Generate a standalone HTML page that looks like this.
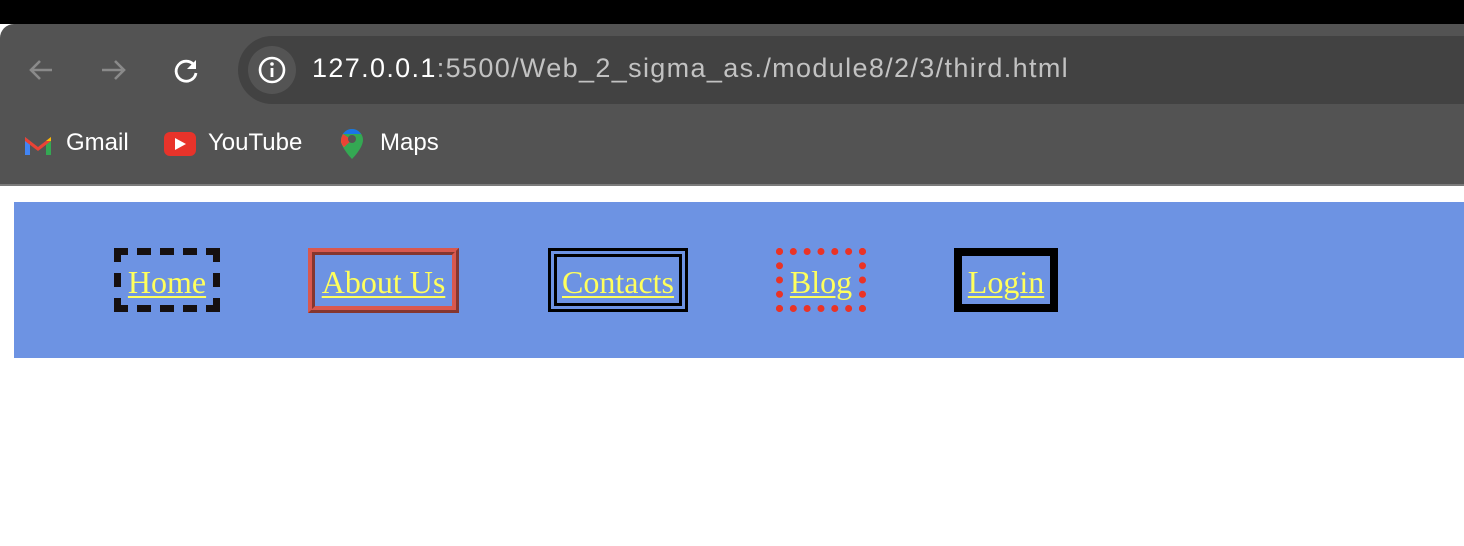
<!DOCTYPE html>
<html><head><style>
html,body{margin:0;padding:0;}
body{width:1464px;height:546px;position:relative;background:#fff;overflow:hidden;font-family:"Liberation Sans",sans-serif;}
.top{position:absolute;left:0;top:0;width:1464px;height:24px;background:#000;}
.chrome{position:absolute;left:0;top:24px;width:1464px;height:160px;background:#535353;border-top-left-radius:14px;}
.line{position:absolute;left:0;top:184px;width:1464px;height:2px;background:#7b7b7b;}
.url{position:absolute;left:238px;top:36px;width:1300px;height:68px;background:#424242;border-radius:34px;}
.info{position:absolute;left:248px;top:46px;width:48px;height:48px;border-radius:24px;background:#545454;}
.urltext{position:absolute;left:312px;top:53px;font-size:27px;color:#c2c2c2;white-space:nowrap;letter-spacing:1.35px;}
.urltext b{color:#fff;font-weight:normal;}
.bm{position:absolute;top:129px;font-size:24px;color:#fff;}
.nav{position:absolute;left:14px;top:202px;width:1450px;height:156px;background:#6d93e3;}
.it{position:absolute;box-sizing:border-box;display:flex;align-items:center;justify-content:center;font-family:"Liberation Serif",serif;font-size:32px;color:#ffff5c;text-decoration:underline;text-decoration-thickness:2px;text-underline-offset:3px;padding-top:4px;white-space:nowrap;}
</style></head><body>
<div class="top"></div>
<div class="chrome"></div>
<div class="line"></div>
<svg style="position:absolute;left:26px;top:56px" width="32" height="28" viewBox="0 0 32 28"><path d="M26 14H6M14 5l-9 9 9 9" stroke="#8a8a8a" stroke-width="2.6" fill="none"/></svg>
<svg style="position:absolute;left:98px;top:56px" width="32" height="28" viewBox="0 0 32 28"><path d="M4 14h20M17 5l9 9-9 9" stroke="#8a8a8a" stroke-width="2.6" fill="none"/></svg>
<svg style="position:absolute;left:172px;top:56px" width="30" height="30" viewBox="0 0 30 30"><path d="M22 9A10 10 0 1 0 24 17" stroke="#fff" stroke-width="2.8" fill="none"/><path d="M24 4v9h-9z" fill="#fff"/></svg>
<div class="url"></div>
<div class="info"></div>
<svg style="position:absolute;left:257px;top:55px" width="30" height="30" viewBox="0 0 30 30"><circle cx="15" cy="15" r="12" stroke="#fff" stroke-width="2.6" fill="none"/><rect x="13.6" y="13" width="2.8" height="9" fill="#fff"/><circle cx="15" cy="9" r="1.8" fill="#fff"/></svg>
<div class="urltext"><b>127.0.0.1</b>:5500/Web_2_sigma_as./module8/2/3/third.html</div>
<svg style="position:absolute;left:23px;top:133px" width="30" height="22" viewBox="0 0 30 22"><path d="M2 4v18h5V8z" fill="#4285f4"/><path d="M28 4v18h-5V8z" fill="#34a853"/><path d="M2 4l13 10L28 4v4L15 18 2 8z" fill="#ea4335"/><path d="M23 8l5-4v4z" fill="#fbbc04"/></svg>
<div class="bm" style="left:66px">Gmail</div>
<div style="position:absolute;left:164px;top:132px;width:32px;height:24px;background:#e8332a;border-radius:6px"></div>
<svg style="position:absolute;left:175px;top:138px" width="12" height="12"><path d="M0 0l11 6-11 6z" fill="#fff"/></svg>
<div class="bm" style="left:208px">YouTube</div>
<svg style="position:absolute;left:340px;top:128px" width="24" height="32" viewBox="0 0 24 32"><path d="M12 1C6 1 1 6 1 12c0 8 11 19 11 19s11-11 11-19C23 6 18 1 12 1z" fill="#34a853"/><path d="M3 6l18 0C19 3 16 1 12 1 8 1 5 3 3 6z" fill="#1a73e8"/><path d="M1 12c0 3 1 5 3 7l8-8z" fill="#fbbc04"/><path d="M3 6l9 6-8 7c-2-2-3-4-3-7 0-2 1-4 2-6z" fill="#ea4335"/><circle cx="12" cy="11" r="4" fill="#555"/></svg>
<div class="bm" style="left:380px">Maps</div>
<div class="nav"></div>
<div class="it" style="left:114px;top:248px;width:106px;height:64px;border:7px dashed #161010;">Home</div>
<div class="it" style="left:308px;top:248px;width:151px;height:65px;border:7px ridge #d9584e;">About Us</div>
<div class="it" style="left:548px;top:248px;width:140px;height:64px;border:9px double #000;">Contacts</div>
<div class="it" style="left:776px;top:248px;width:90px;height:64px;border:7px dotted #ea3326;">Blog</div>
<div class="it" style="left:954px;top:248px;width:104px;height:64px;border:8px solid #000;">Login</div>
</body></html>
